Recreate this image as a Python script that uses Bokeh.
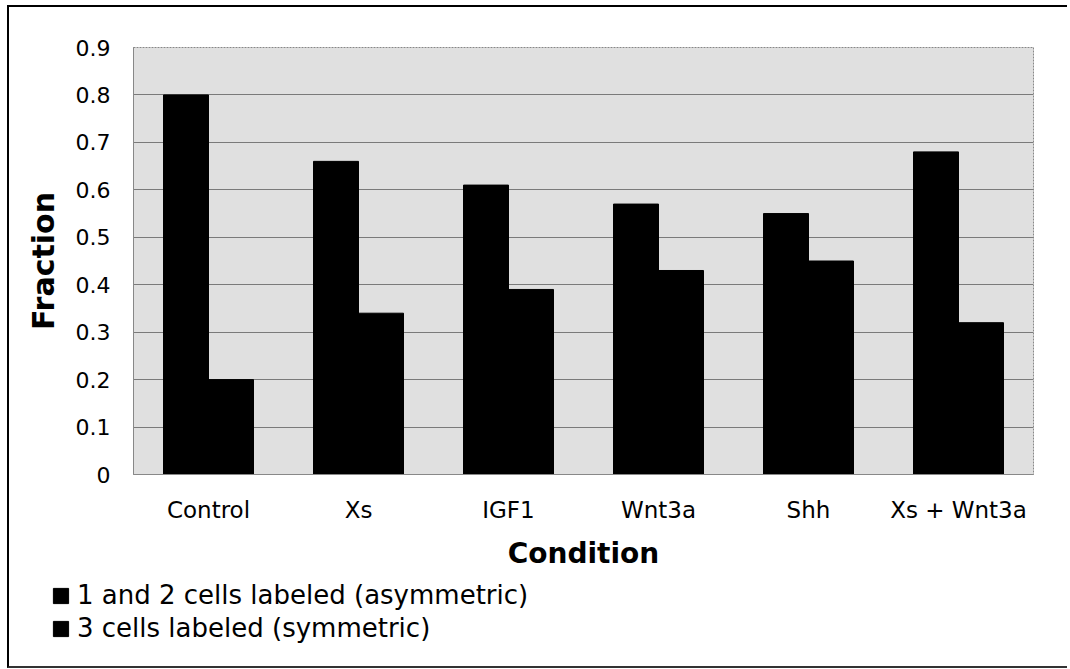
from bokeh.plotting import figure
from bokeh.layouts import column
from bokeh.models import (FactorRange, Legend, LegendItem, Range1d, SingleIntervalTicker,
                          ColumnDataSource)
from bokeh.transform import dodge
from bokeh.embed import file_html
from bokeh.resources import INLINE

categories = ["Control", "Xs", "IGF1", "Wnt3a", "Shh", "Xs + Wnt3a"]
asymmetric = [0.80, 0.66, 0.61, 0.57, 0.55, 0.68]
symmetric = [0.20, 0.34, 0.39, 0.43, 0.45, 0.32]
series_names = ["1 and 2 cells labeled (asymmetric)", "3 cells labeled (symmetric)"]

src = ColumnDataSource(dict(cat=categories, asym=asymmetric, sym=symmetric))

FONT = "DejaVu Sans"
W = 1058

p = figure(x_range=FactorRange(*categories), y_range=Range1d(0, 0.9),
           width=W, height=567, output_backend="svg", toolbar_location=None,
           min_border_left=124, min_border_right=34, min_border_top=40, min_border_bottom=100,
           background_fill_color="#e0e0e0", border_fill_color="white")
p.outline_line_color = "#888888"
p.outline_line_dash = "2 1"

r1 = p.vbar(x=dodge("cat", -0.15, range=p.x_range), top="asym", width=0.3, source=src,
            fill_color="black", line_color="black")
r2 = p.vbar(x=dodge("cat", 0.15, range=p.x_range), top="sym", width=0.3, source=src,
            fill_color="black", line_color="black")

p.yaxis.ticker = SingleIntervalTicker(interval=0.1)
p.yaxis.major_label_overrides = {0: "0"}
p.ygrid.grid_line_color = "#7a7a7a"
p.ygrid.grid_line_width = 1
p.xgrid.grid_line_color = None

for ax in (p.xaxis, p.yaxis):
    ax.major_tick_line_color = None
    ax.minor_tick_line_color = None
    ax.major_label_text_font = FONT
    ax.major_label_text_color = "black"
    ax.axis_label_text_font = FONT
    ax.axis_label_text_font_style = "bold"
    ax.axis_label_text_color = "black"
    ax.axis_line_color = "#888888"

p.yaxis.axis_label = "Fraction"
p.yaxis.axis_label_text_font_size = "30px"
p.yaxis.major_label_text_font_size = "22px"
p.yaxis.major_label_standoff = 17
p.yaxis.axis_label_standoff = 12

p.xaxis.axis_label = "Condition"
p.xaxis.axis_label_text_font_size = "28px"
p.xaxis.major_label_text_font_size = "23px"
p.xaxis.major_label_standoff = 16
p.xaxis.axis_label_standoff = 11

# legend strip below the chart (its bars sit outside its visible range; only the legend shows)
p2 = figure(width=W, height=92, output_backend="svg", toolbar_location=None,
            x_axis_type=None, y_axis_type=None,
            x_range=FactorRange(*categories), y_range=Range1d(2, 3),
            min_border=0, outline_line_color=None,
            background_fill_color="white", border_fill_color="white")
p2.frame_align = False
g1 = p2.vbar(x=dodge("cat", -0.15, range=p2.x_range), top="asym", width=0.3, source=src,
             fill_color="black", line_color="black")
g2 = p2.vbar(x=dodge("cat", 0.15, range=p2.x_range), top="sym", width=0.3, source=src,
             fill_color="black", line_color="black")
legend = Legend(items=[LegendItem(label=series_names[0], renderers=[g1]),
                       LegendItem(label=series_names[1], renderers=[g2])],
                location=(42, 23), orientation="vertical",
                label_text_font=FONT, label_text_font_size="26px", label_text_color="black",
                glyph_width=19, glyph_height=19, label_standoff=7, spacing=3,
                label_height=30, padding=0, margin=0,
                border_line_color=None, background_fill_alpha=0)
p2.add_layout(legend, "center")

layout = column(p, p2, spacing=0,
                styles={"border-left": "2px solid black", "border-top": "2px solid black",
                        "border-bottom": "2px solid #333333",
                        "margin-left": "7px", "margin-top": "5px"})

open("out.html", "w").write(file_html(layout, INLINE))
